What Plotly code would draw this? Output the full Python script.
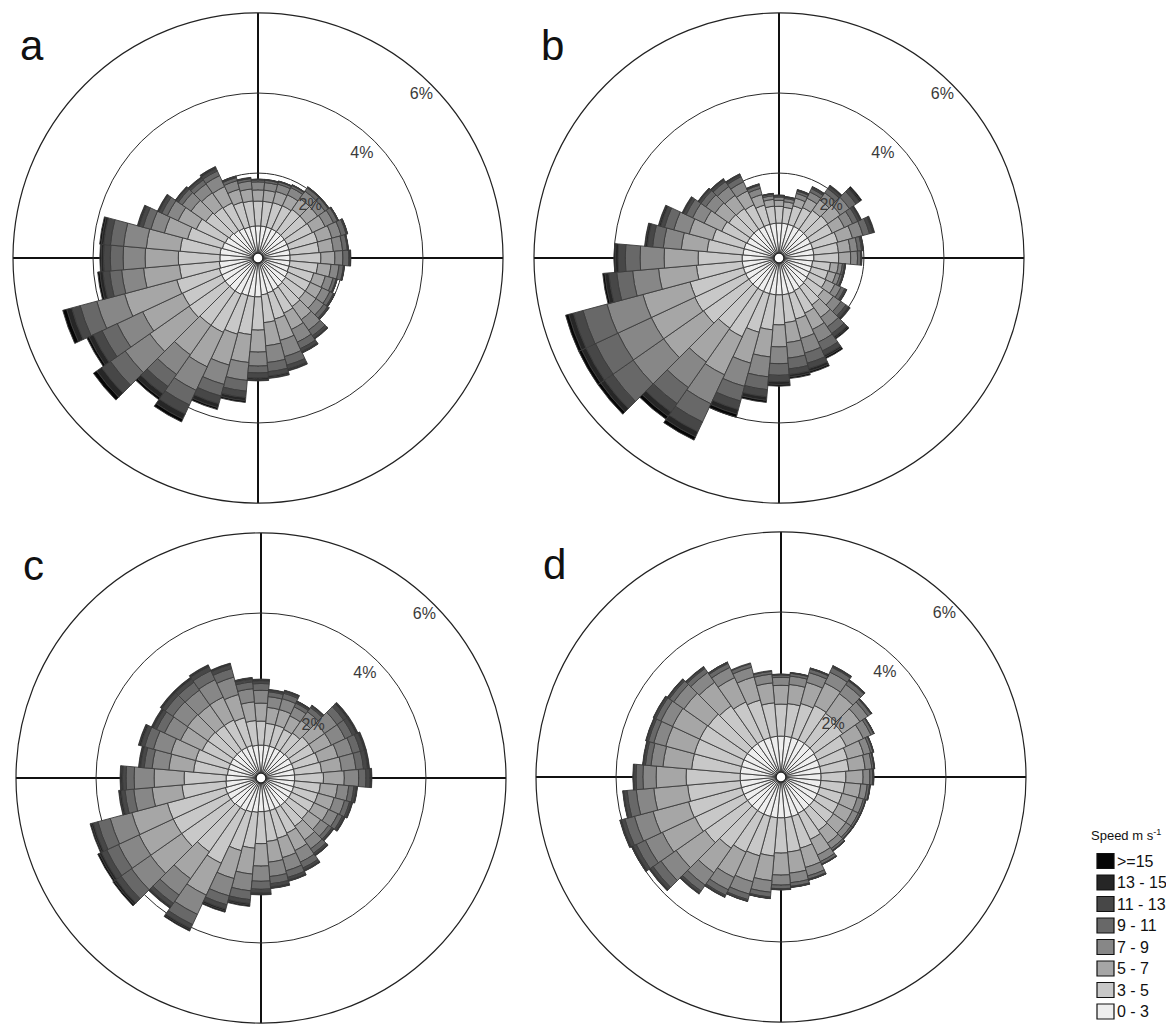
import plotly.graph_objects as go

# ---------------- data ----------------
directions = list(range(0, 360, 10))          # bin centres, degrees from north
speed_bins = ["0 - 3", "3 - 5", "5 - 7", "7 - 9", "9 - 11", "11 - 13", "13 - 15", ">=15"]
bin_colors = ["#eeeeee", "#c8c8c8", "#a6a6a6", "#878787", "#686868", "#474747", "#262626", "#060606"]
panel_labels = ["a", "b", "c", "d"]
grid_pct = [2, 4]
label_pct = [1.72, 3.55, 5.65]
label_text = ["2%", "4%", "6%"]
legend_title = "Speed m s<sup>-1</sup>"

# frequency (%) per direction (rows, 0..350 deg) and speed class (columns)
freq_a = [
    [0.68, 0.62, 0.28, 0.20, 0.05, 0.01, 0.005, 0.005],
    [0.68, 0.62, 0.28, 0.19, 0.06, 0.01, 0.005, 0.005],
    [0.68, 0.63, 0.29, 0.19, 0.06, 0.01, 0.005, 0.005],
    [0.68, 0.64, 0.30, 0.20, 0.06, 0.01, 0.005, 0.005],
    [0.68, 0.68, 0.34, 0.22, 0.10, 0.02, 0.005, 0.005],
    [0.68, 0.68, 0.34, 0.22, 0.10, 0.02, 0.005, 0.005],
    [0.68, 0.70, 0.35, 0.23, 0.11, 0.02, 0.005, 0.005],
    [0.68, 0.74, 0.37, 0.24, 0.13, 0.03, 0.005, 0.005],
    [0.68, 0.73, 0.36, 0.23, 0.12, 0.02, 0.005, 0.005],
    [0.68, 0.77, 0.35, 0.20, 0.15, 0.03, 0.01, 0.01],
    [0.68, 0.70, 0.33, 0.20, 0.11, 0.02, 0.005, 0.005],
    [0.68, 0.64, 0.30, 0.20, 0.08, 0.02, 0.005, 0.005],
    [0.70, 0.62, 0.32, 0.22, 0.10, 0.03, 0.005, 0.005],
    [0.72, 0.60, 0.33, 0.24, 0.11, 0.04, 0.005, 0.005],
    [0.74, 0.62, 0.40, 0.32, 0.17, 0.07, 0.02, 0.01],
    [0.76, 0.64, 0.45, 0.35, 0.18, 0.08, 0.03, 0.01],
    [0.78, 0.68, 0.55, 0.42, 0.22, 0.10, 0.03, 0.02],
    [0.80, 0.70, 0.58, 0.42, 0.23, 0.11, 0.04, 0.02],
    [0.85, 0.83, 0.55, 0.35, 0.17, 0.13, 0.05, 0.02],
    [0.85, 0.95, 0.70, 0.45, 0.27, 0.16, 0.08, 0.04],
    [0.85, 1.00, 0.80, 0.50, 0.30, 0.20, 0.10, 0.05],
    [0.88, 1.05, 0.95, 0.65, 0.40, 0.25, 0.14, 0.08],
    [0.88, 1.05, 0.90, 0.60, 0.37, 0.22, 0.12, 0.06],
    [0.88, 1.10, 1.20, 0.75, 0.45, 0.27, 0.15, 0.10],
    [0.88, 1.08, 1.10, 0.70, 0.42, 0.24, 0.12, 0.06],
    [0.88, 1.10, 1.35, 0.72, 0.43, 0.22, 0.13, 0.10],
    [0.85, 1.00, 0.90, 0.55, 0.30, 0.17, 0.08, 0.05],
    [0.83, 1.04, 0.83, 0.55, 0.32, 0.17, 0.06, 0.03],
    [0.83, 1.00, 0.85, 0.57, 0.33, 0.17, 0.06, 0.04],
    [0.80, 0.90, 0.60, 0.35, 0.20, 0.10, 0.03, 0.02],
    [0.78, 0.80, 0.50, 0.30, 0.15, 0.08, 0.02, 0.02],
    [0.75, 0.72, 0.45, 0.27, 0.12, 0.06, 0.02, 0.01],
    [0.72, 0.70, 0.45, 0.27, 0.12, 0.06, 0.02, 0.01],
    [0.70, 0.70, 0.45, 0.30, 0.13, 0.07, 0.03, 0.02],
    [0.68, 0.65, 0.33, 0.22, 0.08, 0.02, 0.01, 0.01],
    [0.68, 0.63, 0.30, 0.20, 0.06, 0.01, 0.01, 0.01],
]

freq_b = [
    [0.75, 0.42, 0.15, 0.08, 0.03, 0.01, 0.005, 0.005],
    [0.75, 0.40, 0.14, 0.08, 0.03, 0.01, 0.005, 0.005],
    [0.75, 0.48, 0.20, 0.12, 0.06, 0.02, 0.01, 0.01],
    [0.75, 0.52, 0.26, 0.17, 0.09, 0.04, 0.01, 0.01],
    [0.75, 0.58, 0.32, 0.22, 0.13, 0.06, 0.02, 0.02],
    [0.75, 0.62, 0.38, 0.28, 0.20, 0.10, 0.04, 0.03],
    [0.75, 0.60, 0.33, 0.23, 0.14, 0.06, 0.02, 0.02],
    [0.75, 0.65, 0.38, 0.27, 0.17, 0.08, 0.03, 0.02],
    [0.75, 0.62, 0.30, 0.18, 0.10, 0.03, 0.01, 0.01],
    [0.75, 0.62, 0.30, 0.17, 0.08, 0.02, 0.005, 0.005],
    [0.72, 0.45, 0.20, 0.10, 0.05, 0.02, 0.005, 0.005],
    [0.72, 0.43, 0.20, 0.11, 0.06, 0.02, 0.005, 0.005],
    [0.72, 0.45, 0.25, 0.17, 0.10, 0.04, 0.01, 0.01],
    [0.74, 0.50, 0.30, 0.23, 0.15, 0.08, 0.03, 0.02],
    [0.76, 0.55, 0.38, 0.29, 0.20, 0.10, 0.04, 0.03],
    [0.78, 0.62, 0.45, 0.35, 0.24, 0.12, 0.05, 0.04],
    [0.80, 0.66, 0.50, 0.38, 0.26, 0.14, 0.07, 0.04],
    [0.80, 0.70, 0.50, 0.39, 0.27, 0.14, 0.06, 0.04],
    [0.80, 0.75, 0.55, 0.42, 0.29, 0.16, 0.07, 0.04],
    [0.80, 0.88, 0.68, 0.50, 0.32, 0.18, 0.09, 0.05],
    [0.80, 1.00, 0.80, 0.60, 0.38, 0.22, 0.12, 0.08],
    [0.80, 1.25, 1.05, 0.80, 0.50, 0.27, 0.14, 0.09],
    [0.80, 1.22, 1.03, 0.78, 0.49, 0.26, 0.13, 0.09],
    [0.80, 1.38, 1.22, 0.93, 0.62, 0.25, 0.12, 0.08],
    [0.80, 1.40, 1.20, 0.92, 0.62, 0.26, 0.12, 0.08],
    [0.80, 1.38, 1.22, 0.93, 0.62, 0.25, 0.12, 0.08],
    [0.80, 1.15, 0.95, 0.65, 0.40, 0.20, 0.10, 0.05],
    [0.80, 1.10, 0.85, 0.60, 0.37, 0.18, 0.07, 0.03],
    [0.78, 0.90, 0.65, 0.45, 0.27, 0.13, 0.05, 0.02],
    [0.78, 0.82, 0.60, 0.40, 0.24, 0.10, 0.04, 0.02],
    [0.76, 0.70, 0.48, 0.32, 0.18, 0.07, 0.02, 0.02],
    [0.76, 0.65, 0.42, 0.28, 0.15, 0.06, 0.02, 0.01],
    [0.76, 0.63, 0.40, 0.27, 0.15, 0.06, 0.02, 0.01],
    [0.75, 0.60, 0.38, 0.25, 0.14, 0.05, 0.02, 0.01],
    [0.75, 0.50, 0.27, 0.16, 0.08, 0.02, 0.01, 0.01],
    [0.75, 0.43, 0.17, 0.09, 0.04, 0.01, 0.005, 0.005],
]

freq_c = [
    [0.70, 0.60, 0.45, 0.32, 0.17, 0.07, 0.03, 0.01],
    [0.70, 0.55, 0.40, 0.27, 0.12, 0.04, 0.01, 0.01],
    [0.70, 0.55, 0.40, 0.28, 0.14, 0.05, 0.02, 0.01],
    [0.70, 0.52, 0.37, 0.25, 0.10, 0.04, 0.01, 0.01],
    [0.70, 0.55, 0.38, 0.27, 0.13, 0.05, 0.01, 0.01],
    [0.72, 0.62, 0.48, 0.38, 0.20, 0.10, 0.03, 0.02],
    [0.72, 0.62, 0.48, 0.38, 0.20, 0.10, 0.03, 0.02],
    [0.72, 0.65, 0.50, 0.38, 0.20, 0.10, 0.03, 0.02],
    [0.72, 0.68, 0.50, 0.36, 0.19, 0.10, 0.03, 0.02],
    [0.72, 0.72, 0.52, 0.36, 0.18, 0.10, 0.03, 0.02],
    [0.72, 0.65, 0.43, 0.28, 0.13, 0.06, 0.02, 0.01],
    [0.72, 0.63, 0.42, 0.27, 0.13, 0.05, 0.02, 0.01],
    [0.72, 0.62, 0.40, 0.26, 0.12, 0.05, 0.02, 0.01],
    [0.72, 0.60, 0.38, 0.24, 0.10, 0.04, 0.01, 0.01],
    [0.72, 0.63, 0.42, 0.27, 0.13, 0.05, 0.02, 0.01],
    [0.72, 0.68, 0.48, 0.32, 0.16, 0.06, 0.02, 0.01],
    [0.72, 0.72, 0.50, 0.34, 0.17, 0.07, 0.02, 0.01],
    [0.72, 0.75, 0.52, 0.36, 0.18, 0.08, 0.03, 0.01],
    [0.72, 0.80, 0.56, 0.38, 0.20, 0.09, 0.03, 0.02],
    [0.74, 0.90, 0.65, 0.42, 0.22, 0.10, 0.04, 0.03],
    [0.76, 1.00, 0.72, 0.45, 0.23, 0.11, 0.05, 0.03],
    [0.78, 1.45, 0.88, 0.53, 0.28, 0.11, 0.04, 0.03],
    [0.78, 1.35, 0.82, 0.50, 0.25, 0.10, 0.03, 0.02],
    [0.80, 1.50, 0.95, 0.58, 0.32, 0.15, 0.06, 0.04],
    [0.80, 1.50, 0.94, 0.57, 0.32, 0.15, 0.06, 0.04],
    [0.80, 1.50, 0.92, 0.56, 0.32, 0.12, 0.05, 0.03],
    [0.76, 1.10, 0.75, 0.46, 0.22, 0.10, 0.04, 0.02],
    [0.75, 1.05, 0.75, 0.50, 0.20, 0.09, 0.04, 0.02],
    [0.72, 0.85, 0.62, 0.42, 0.20, 0.09, 0.03, 0.02],
    [0.72, 0.85, 0.64, 0.45, 0.23, 0.10, 0.04, 0.02],
    [0.72, 0.78, 0.60, 0.44, 0.22, 0.09, 0.03, 0.02],
    [0.72, 0.78, 0.62, 0.45, 0.23, 0.10, 0.03, 0.02],
    [0.72, 0.76, 0.62, 0.46, 0.24, 0.10, 0.03, 0.02],
    [0.72, 0.76, 0.63, 0.48, 0.25, 0.11, 0.03, 0.02],
    [0.72, 0.72, 0.60, 0.45, 0.22, 0.10, 0.02, 0.02],
    [0.70, 0.62, 0.47, 0.33, 0.17, 0.07, 0.03, 0.01],
]

freq_d = [
    [0.90, 0.80, 0.47, 0.20, 0.06, 0.01, 0.005, 0.005],
    [0.90, 0.82, 0.48, 0.21, 0.07, 0.01, 0.005, 0.005],
    [0.90, 0.88, 0.55, 0.25, 0.09, 0.02, 0.005, 0.005],
    [0.90, 0.95, 0.62, 0.30, 0.13, 0.03, 0.01, 0.01],
    [0.90, 0.92, 0.60, 0.28, 0.11, 0.02, 0.01, 0.01],
    [0.90, 0.86, 0.53, 0.24, 0.09, 0.02, 0.005, 0.005],
    [0.88, 0.80, 0.47, 0.21, 0.07, 0.01, 0.005, 0.005],
    [0.88, 0.72, 0.42, 0.18, 0.06, 0.01, 0.005, 0.005],
    [0.88, 0.70, 0.41, 0.17, 0.05, 0.01, 0.005, 0.005],
    [0.88, 0.62, 0.43, 0.17, 0.07, 0.02, 0.005, 0.005],
    [0.88, 0.60, 0.40, 0.16, 0.06, 0.01, 0.005, 0.005],
    [0.88, 0.58, 0.39, 0.16, 0.05, 0.01, 0.005, 0.005],
    [0.88, 0.58, 0.39, 0.16, 0.05, 0.01, 0.005, 0.005],
    [0.88, 0.60, 0.38, 0.15, 0.05, 0.01, 0.005, 0.005],
    [0.88, 0.63, 0.39, 0.16, 0.06, 0.01, 0.005, 0.005],
    [0.88, 0.72, 0.43, 0.18, 0.07, 0.01, 0.005, 0.005],
    [0.90, 0.82, 0.50, 0.22, 0.08, 0.02, 0.005, 0.005],
    [0.90, 0.86, 0.53, 0.24, 0.09, 0.02, 0.005, 0.005],
    [0.90, 0.88, 0.55, 0.25, 0.09, 0.02, 0.005, 0.005],
    [0.90, 0.96, 0.62, 0.29, 0.12, 0.03, 0.005, 0.005],
    [0.90, 1.02, 0.67, 0.32, 0.14, 0.04, 0.005, 0.005],
    [0.90, 1.05, 0.70, 0.34, 0.15, 0.04, 0.01, 0.01],
    [0.90, 1.15, 0.75, 0.38, 0.18, 0.06, 0.02, 0.01],
    [0.90, 1.30, 0.88, 0.46, 0.24, 0.08, 0.03, 0.01],
    [0.90, 1.35, 0.90, 0.47, 0.25, 0.09, 0.03, 0.01],
    [0.90, 1.37, 0.92, 0.48, 0.25, 0.09, 0.03, 0.01],
    [0.90, 1.32, 0.85, 0.44, 0.23, 0.08, 0.02, 0.01],
    [0.90, 1.35, 0.75, 0.33, 0.17, 0.06, 0.01, 0.01],
    [0.90, 1.22, 0.72, 0.30, 0.14, 0.05, 0.01, 0.01],
    [0.90, 1.22, 0.74, 0.31, 0.14, 0.05, 0.01, 0.01],
    [0.90, 1.22, 0.75, 0.32, 0.14, 0.05, 0.01, 0.01],
    [0.90, 1.20, 0.74, 0.31, 0.13, 0.05, 0.01, 0.01],
    [0.90, 1.15, 0.72, 0.30, 0.12, 0.04, 0.01, 0.01],
    [0.90, 1.05, 0.67, 0.28, 0.11, 0.03, 0.005, 0.005],
    [0.90, 0.97, 0.60, 0.25, 0.09, 0.02, 0.0, 0.0],
    [0.90, 0.84, 0.50, 0.22, 0.07, 0.02, 0.0, 0.0],
]

panels = [freq_a, freq_b, freq_c, freq_d]

# ---------------- layout geometry (pixels) ----------------
W, H = 1166, 1024
centres = [(258, 258), (779, 258), (261, 778), (781, 777)]
R = 245

FONT = "Liberation Sans, Arial, sans-serif"

fig = go.Figure()

for p, freq in enumerate(panels):
    sub = "polar" if p == 0 else f"polar{p+1}"
    for k, name in enumerate(speed_bins):
        fig.add_trace(go.Barpolar(
            r=[row[k] for row in freq],
            theta=directions,
            width=[10] * len(directions),
            name=name,
            marker=dict(color=bin_colors[k], line=dict(color="#3c3c3c", width=0.9)),
            subplot=sub,
            showlegend=False,
            hoverinfo="skip",
        ))
    fig.add_trace(go.Scatterpolar(
        r=label_pct,
        theta=[45] * len(label_pct),
        mode="text",
        text=label_text,
        textfont=dict(family=FONT, size=16, color="#3a3a3a"),
        subplot=sub,
        showlegend=False,
        hoverinfo="skip",
        cliponaxis=False,
    ))

polar_common = dict(
    bgcolor="white",
    hole=0.02,
    barmode="stack",
    radialaxis=dict(range=[0, 6], tickvals=grid_pct, showticklabels=False, ticks="",
                    showline=False, showgrid=True, gridcolor="#2a2a2a", gridwidth=1),
    angularaxis=dict(direction="clockwise", rotation=90, tickvals=[0, 90, 180, 270],
                     showticklabels=False, ticks="", showgrid=True, gridcolor="#111111",
                     gridwidth=1.5, showline=True, linecolor="#222222", linewidth=1.2),
)

layout_polars = {}
for p, (cx, cy) in enumerate(centres):
    key = "polar" if p == 0 else f"polar{p+1}"
    d = dict(polar_common)
    d["domain"] = dict(x=[(cx - R) / W, (cx + R) / W], y=[1 - (cy + R) / H, 1 - (cy - R) / H])
    layout_polars[key] = d

annotations = []
for p, (cx, cy) in enumerate(centres):
    annotations.append(dict(
        x=(cx - 240) / W, y=1 - (cy - 213) / H, xref="paper", yref="paper",
        xanchor="left", yanchor="middle", text=panel_labels[p], showarrow=False,
        font=dict(family=FONT, size=42, color="#111111"),
    ))

# custom legend
shapes = []
leg_x0, leg_top, row_h = 1097, 861, 21.5
annotations.append(dict(
    x=(leg_x0 - 8) / W, y=1 - (leg_top - 26) / H, xref="paper", yref="paper",
    xanchor="left", yanchor="middle", text=legend_title, showarrow=False,
    font=dict(family=FONT, size=13, color="#111111"),
))
for i, k in enumerate(reversed(range(len(speed_bins)))):
    yc = leg_top + i * row_h
    shapes.append(dict(
        type="rect", xref="paper", yref="paper",
        x0=leg_x0 / W, x1=(leg_x0 + 17) / W,
        y0=1 - (yc + 7.5) / H, y1=1 - (yc - 7.5) / H,
        fillcolor=bin_colors[k], line=dict(color="#111111", width=1.2),
    ))
    annotations.append(dict(
        x=(leg_x0 + 18) / W, y=1 - yc / H, xref="paper", yref="paper",
        xanchor="left", yanchor="middle", text=speed_bins[k], showarrow=False,
        font=dict(family=FONT, size=16, color="#111111"),
    ))

fig.update_layout(
    width=W, height=H,
    margin=dict(l=0, r=0, t=0, b=0),
    paper_bgcolor="white",
    showlegend=False,
    annotations=annotations,
    shapes=shapes,
    **layout_polars,
)

fig.write_html(
    "out.html",
    config={"displayModeBar": False},
    post_script="document.body.style.margin='0';document.body.style.overflow='hidden';",
)
